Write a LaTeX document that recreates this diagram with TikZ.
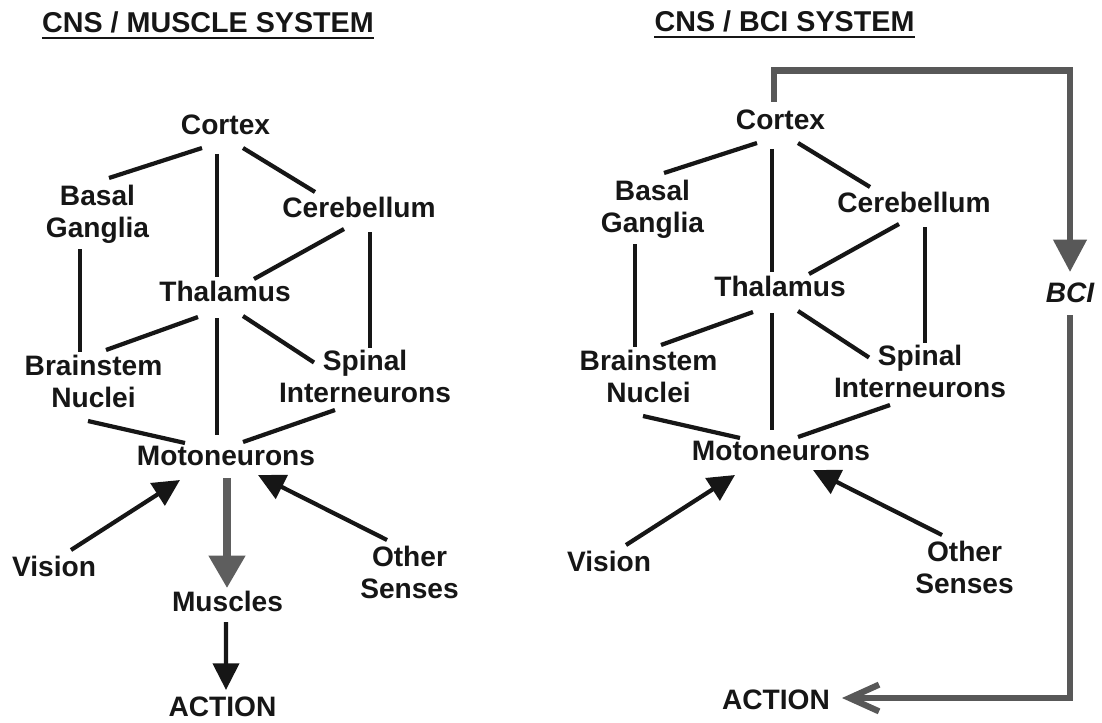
\documentclass[tikz,border=0pt]{standalone}
\usepackage{fontspec}
\setmainfont{Liberation Sans}
\usetikzlibrary{arrows.meta, calc}
\definecolor{linkblack}{HTML}{161616}
\definecolor{drivegray}{HTML}{5E5E5E}
\definecolor{bcigray}{HTML}{585858}

\begin{document}
\begin{tikzpicture}[x=0.025cm, y=-0.025cm,
  every node/.style={font=\bfseries\fontsize{20}{23}\selectfont, align=center, inner sep=0pt, text=linkblack},
  headline/.style={font=\bfseries\fontsize{20.4}{24}\selectfont},
  link/.style={draw=linkblack, line width=3pt},
  sense/.style={link, -{Triangle[length=19pt, width=18.5pt]}},
  drive/.style={draw=drivegray, line width=5pt, -{Triangle[length=23pt, width=25pt]}},
  bcilink/.style={draw=bcigray, line width=4.4pt}]
\useasboundingbox (0,0) rectangle (1102,722);

% CNS / muscle system
\node[headline] (titleL) at (208,22.5) {CNS / MUSCLE SYSTEM};
\node (cortexL) at (225.5,125) {Cortex};
\node (basalL) at (97.5,214) {Basal\\Ganglia};
\node (cerebL) at (359,207.5) {Cerebellum};
\node (thalL) at (225,291) {Thalamus};
\node (brainL) at (93.5,381.5) {Brainstem\\Nuclei};
\node (spinalL) at (365,376.5) {Spinal\\Interneurons};
\node (motoL) at (226,456) {Motoneurons};
\node (visionL) at (54,566) {Vision};
\node (musclesL) at (227.5,601) {Muscles};
\node (otherL) at (409.5,572.5) {Other\\Senses};
\node (actionL) at (222.5,707) {ACTION};

\draw[linkblack, line width=1.4pt] ($(titleL.base west)+(0,5)$) -- ($(titleL.base east)+(0,5)$);
\draw[link] ($(cortexL.center)+(-23.5,23)$) -- ($(basalL.center)+(11.5,-36)$);
\draw[link] ($(cortexL.center)+(-8.5,29)$) -- ($(thalL.center)+(-8,-14)$);
\draw[link] ($(cortexL.center)+(17.5,23)$) -- ($(cerebL.center)+(-44,-15.5)$);
\draw[link] ($(basalL.center)+(-17.5,35)$) -- ($(brainL.center)+(-13.5,-29.5)$);
\draw[link] ($(cerebL.center)+(-15,21.5)$) -- ($(thalL.center)+(29,-12)$);
\draw[link] ($(cerebL.center)+(11,24.5)$) -- ($(spinalL.center)+(5,-28.5)$);
\draw[link] ($(thalL.center)+(-27,26)$) -- ($(brainL.center)+(12.5,-31.5)$);
\draw[link] ($(thalL.center)+(-8,27)$) -- ($(motoL.center)+(-9,-21)$);
\draw[link] ($(thalL.center)+(18,25)$) -- ($(spinalL.center)+(-51,-14)$);
\draw[link] ($(brainL.center)+(-5.5,39.5)$) -- ($(motoL.center)+(-41,-13)$);
\draw[link] ($(spinalL.center)+(-30,33.5)$) -- ($(motoL.center)+(17,-14)$);
\draw[sense] ($(visionL.center)+(17,-16)$) -- ($(motoL.center)+(-46,24)$);
\draw[sense] ($(otherL.center)+(-22.5,-32.5)$) -- ($(motoL.center)+(32,19)$);
\draw[drive] ($(motoL.center)+(1,22)$) -- ($(musclesL.center)+(-0.5,-13)$);
\draw[sense] ($(musclesL.center)+(-1.5,21)$) -- ($(actionL.center)+(3.5,-17)$);

% CNS / BCI system
\node[headline] (titleR) at (784.5,21.5) {CNS / BCI SYSTEM};
\node (cortexR) at (780.5,120) {Cortex};
\node (basalR) at (652.5,209) {Basal\\Ganglia};
\node (cerebR) at (914,202.5) {Cerebellum};
\node (thalR) at (780,286) {Thalamus};
\node (brainR) at (648.5,376.5) {Brainstem\\Nuclei};
\node (spinalR) at (920,371.5) {Spinal\\Interneurons};
\node (motoR) at (781,451) {Motoneurons};
\node (visionR) at (609,561) {Vision};
\node (otherR) at (964.5,567.5) {Other\\Senses};
\node (actionR) at (776,700) {ACTION};
\node[font=\bfseries\itshape\fontsize{20}{23}\selectfont] (bciR) at (1070,293) {BCI};

\draw[linkblack, line width=1.4pt] ($(titleR.base west)+(0,5)$) -- ($(titleR.base east)+(0,5)$);
\draw[link] ($(cortexR.center)+(-23.5,23)$) -- ($(basalR.center)+(11.5,-36)$);
\draw[link] ($(cortexR.center)+(-8.5,29)$) -- ($(thalR.center)+(-8,-14)$);
\draw[link] ($(cortexR.center)+(17.5,23)$) -- ($(cerebR.center)+(-44,-15.5)$);
\draw[link] ($(basalR.center)+(-17.5,35)$) -- ($(brainR.center)+(-13.5,-29.5)$);
\draw[link] ($(cerebR.center)+(-15,21.5)$) -- ($(thalR.center)+(29,-12)$);
\draw[link] ($(cerebR.center)+(11,24.5)$) -- ($(spinalR.center)+(5,-28.5)$);
\draw[link] ($(thalR.center)+(-27,26)$) -- ($(brainR.center)+(12.5,-31.5)$);
\draw[link] ($(thalR.center)+(-8,27)$) -- ($(motoR.center)+(-9,-21)$);
\draw[link] ($(thalR.center)+(18,25)$) -- ($(spinalR.center)+(-51,-14)$);
\draw[link] ($(brainR.center)+(-5.5,39.5)$) -- ($(motoR.center)+(-41,-13)$);
\draw[link] ($(spinalR.center)+(-30,33.5)$) -- ($(motoR.center)+(17,-14)$);
\draw[sense] ($(visionR.center)+(17,-16)$) -- ($(motoR.center)+(-46,24)$);
\draw[sense] ($(otherR.center)+(-22.5,-32.5)$) -- ($(motoR.center)+(32,19)$);
\draw[bcilink, -{Triangle[length=23pt, width=23pt]}] ($(cortexR.center)+(-6.5,-18)$) -- ++(0,-31.5) -| ($(bciR.center)+(0,-21)$);
\draw[bcilink, -{Straight Barb[length=21pt, width=19pt]}] ($(bciR.center)+(0,22)$) |- ($(actionR.center)+(66,-2)$);
\end{tikzpicture}
\end{document}
